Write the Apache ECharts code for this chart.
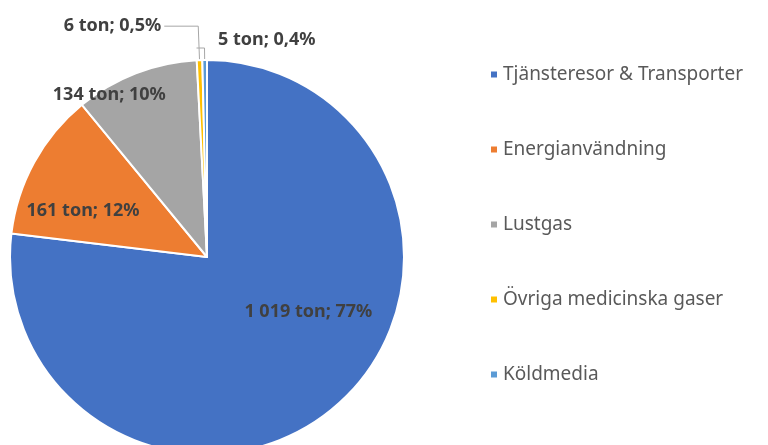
<!DOCTYPE html>
<html>
<head>
<meta charset="utf-8">
<script src="https://cdn.jsdelivr.net/npm/echarts@6/dist/echarts.min.js"></script>
<style>
  html, body { margin: 0; padding: 0; background: #fff; }
  #chart { width: 768px; height: 445px; }
</style>
</head>
<body>
<div id="chart"></div>
<script>
const categories = ['Tjänsteresor & Transporter', 'Energianvändning', 'Lustgas', 'Övriga medicinska gaser', 'Köldmedia'];
const tons = [1019, 161, 134, 6, 5];
const colors = ['#4472C4', '#ED7D31', '#A5A5A5', '#FFC000', '#5B9BD5'];

const total = tons.reduce((a, b) => a + b, 0);

function fmtTon(v) {
  return String(v).replace(/\B(?=(\d{3})+(?!\d))/g, ' ');
}
function fmtPct(v) {
  const p = v / total * 100;
  return (p >= 1 ? Math.round(p).toString() : p.toFixed(1).replace('.', ',')) + '%';
}

// label nudges (px) to mimic the spreadsheet's best-fit placement
const labelShift = [[34, -21], [-35, 3], [-61, -67], null, [124, -8]];

const chart = echarts.init(document.getElementById('chart'));
chart.setOption({
  animation: false,
  color: colors,
  legend: {
    orient: 'vertical',
    left: 484,
    top: 60,
    itemWidth: 8,
    itemHeight: 8,
    itemGap: 56,
    icon: 'rect',
    textStyle: { fontFamily: 'Noto Sans', fontSize: 19, color: '#595959' },
    data: categories
  },
  series: [{
    type: 'pie',
    center: [207, 257],
    radius: 197,
    startAngle: 90,
    clockwise: true,
    avoidLabelOverlap: false,
    itemStyle: { borderColor: '#fff', borderWidth: 2 },
    label: {
      position: 'inside',
      fontFamily: 'Noto Sans',
      fontSize: 18,
      fontWeight: 'bold',
      color: '#404040',
      formatter: p => fmtTon(p.value) + ' ton; ' + fmtPct(p.value)
    },
    labelLine: { show: false },
    labelLayout: p => {
      const s = labelShift[p.dataIndex];
      return s ? { dx: s[0], dy: s[1] } : {};
    },
    data: categories.map((name, i) => {
      const d = { name, value: tons[i] };
      if (i === 3) {
        d.label = { position: 'outside', distanceToLabelLine: 3 };
        d.labelLine = { show: true, length: 34, length2: 34, lineStyle: { color: '#A6A6A6', width: 1 } };
      } else if (i === 4) {
        d.label = { position: 'outside' };
        d.labelLine = { show: true, length: 12, length2: 8, lineStyle: { color: '#A6A6A6', width: 1 } };
      }
      return d;
    })
  }]
});
</script>
</body>
</html>
